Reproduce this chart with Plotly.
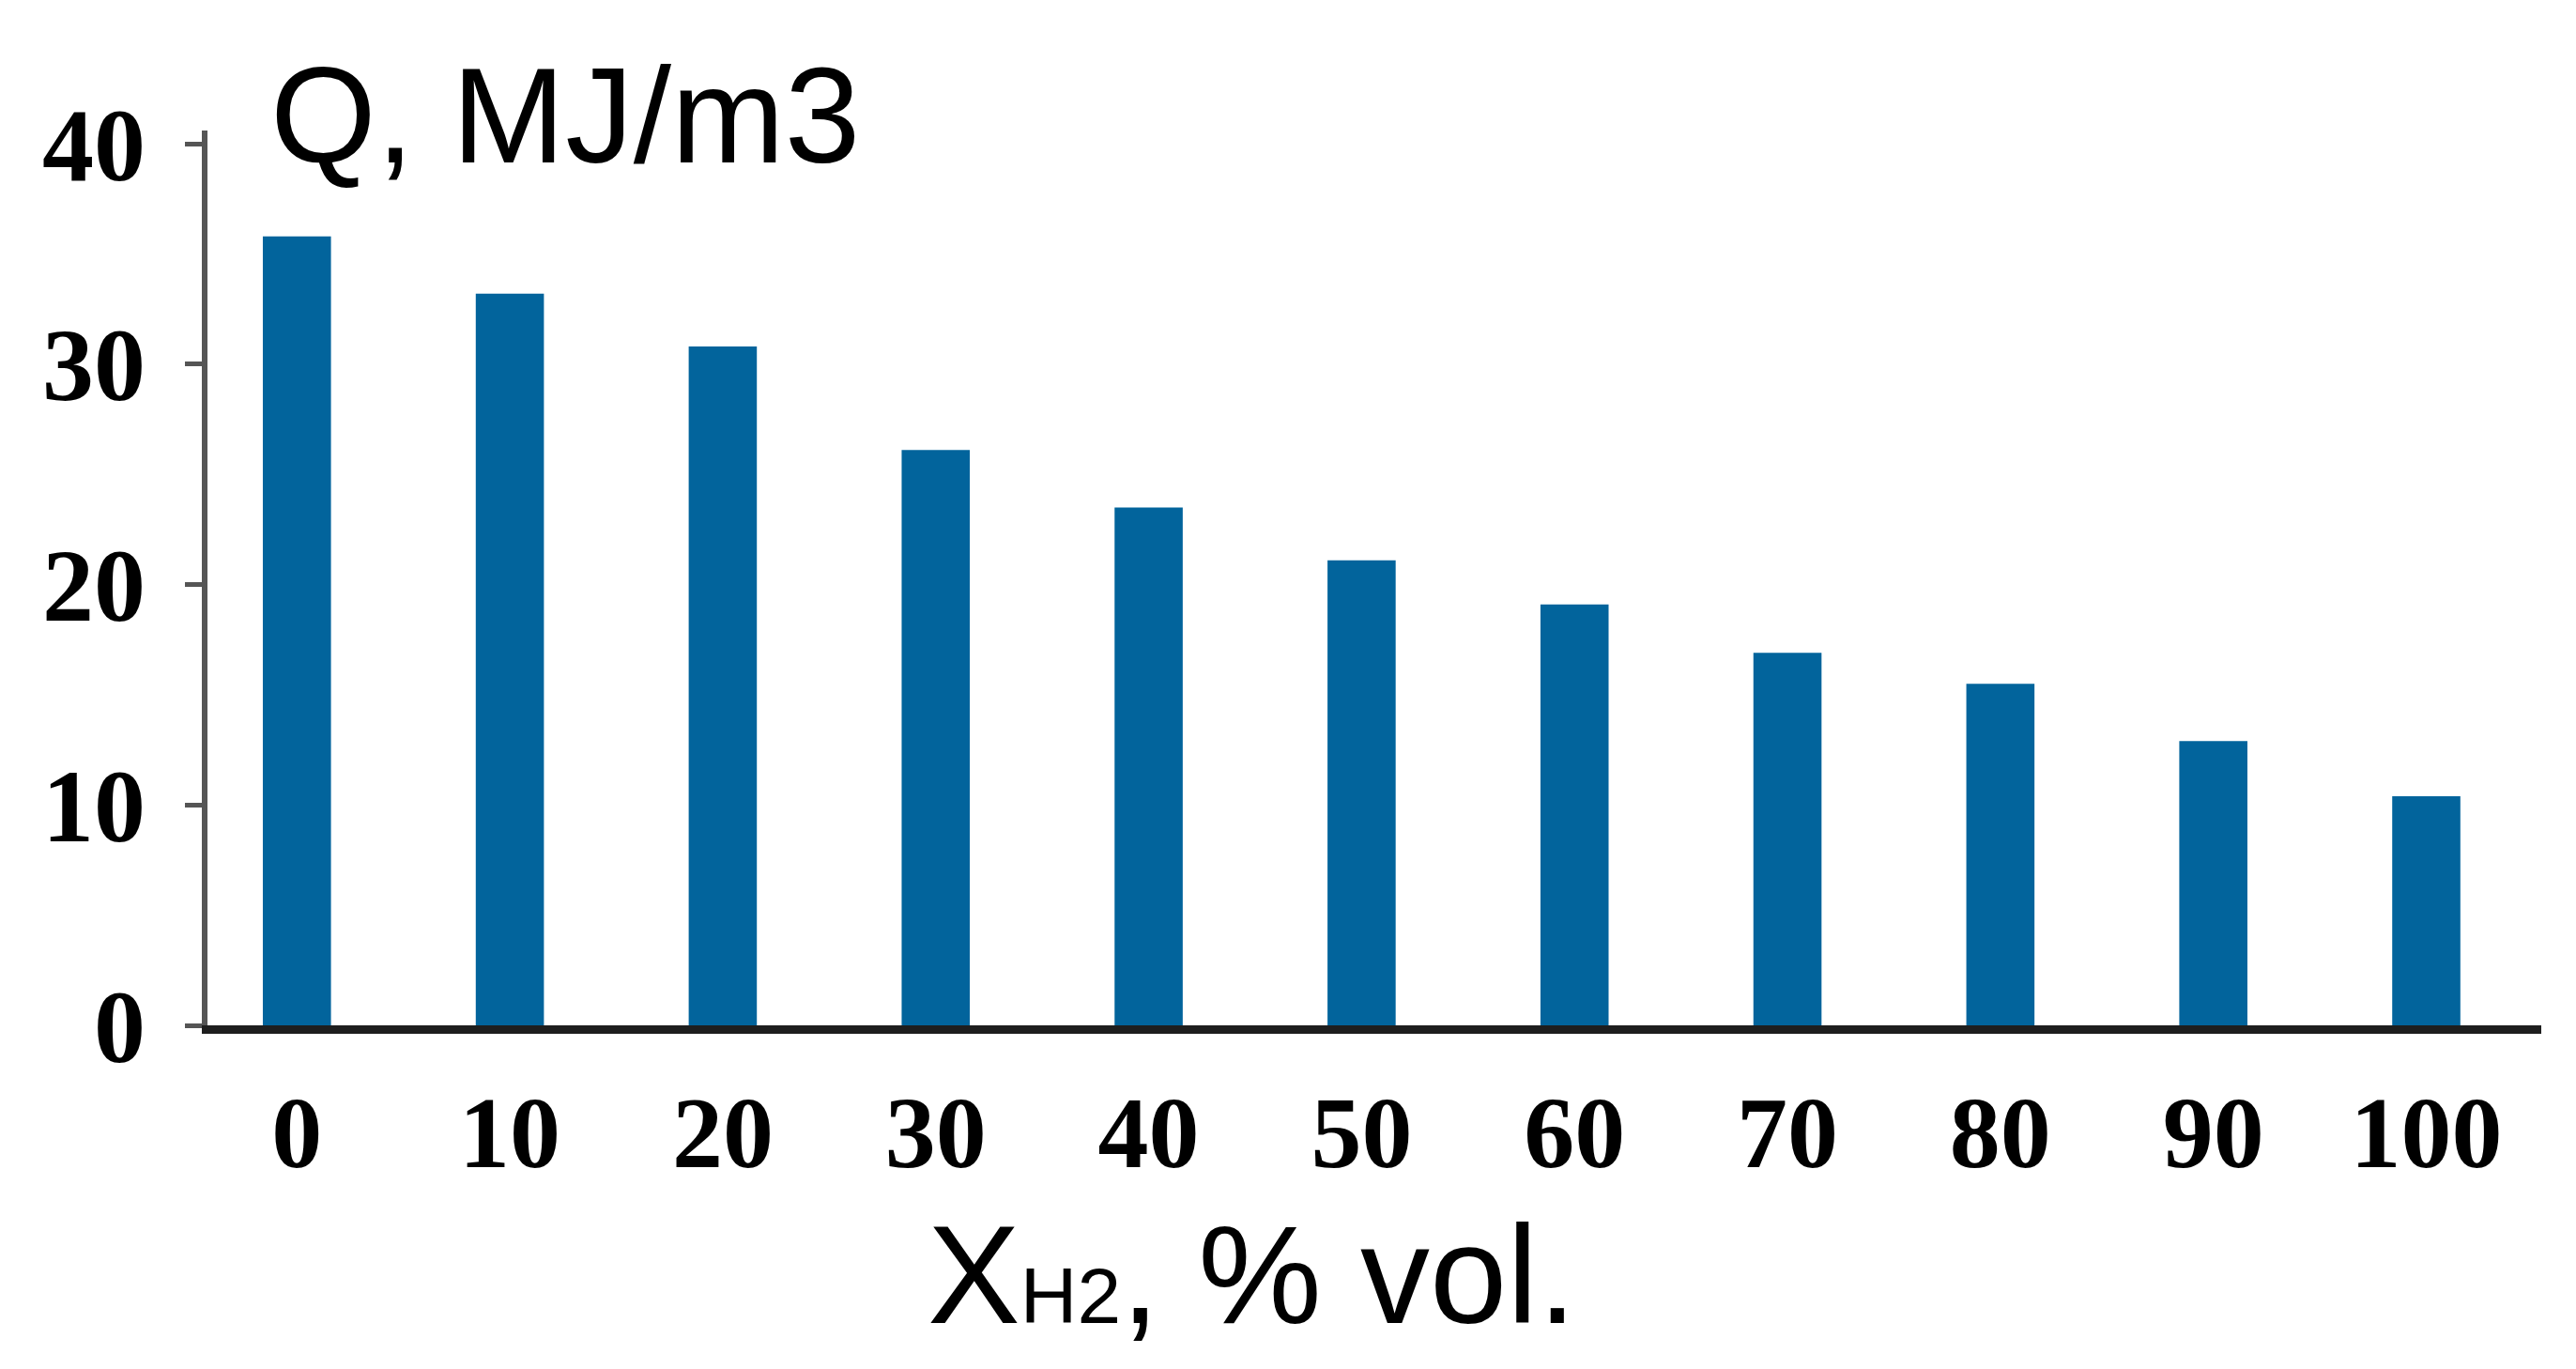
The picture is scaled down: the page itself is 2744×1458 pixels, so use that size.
import plotly.graph_objects as go

# hydrogen share in the mix, % vol.
x_h2 = ["0", "10", "20", "30", "40", "50", "60", "70", "80", "90", "100"]
# heating value, MJ/m3
q_values = [35.8, 33.2, 30.8, 26.1, 23.5, 21.1, 19.1, 16.9, 15.5, 12.9, 10.4]
y_ticks = [0, 10, 20, 30, 40]

W, H = 2744, 1458
ML, MR, MT, MB = 213, 45, 131, 374
bar_color = "#02649C"

def px_to_paper(px, py):
    # absolute page pixels -> paper coords
    return (px - ML) / (W - ML - MR), (H - MB - py) / (H - MT - MB)

fig = go.Figure()
fig.add_trace(go.Bar(
    x=x_h2, y=q_values,
    marker=dict(color=bar_color, line=dict(width=0)),
    width=0.32,
))

fig.update_layout(
    width=W, height=H,
    margin=dict(l=ML, r=MR, t=MT, b=MB, autoexpand=False),
    paper_bgcolor="white",
    plot_bgcolor="white",
    showlegend=False,
    xaxis=dict(
        type="category",
        range=[-0.42, 10.54],
        showline=True, linecolor="#1e1e1e", linewidth=9,
        showgrid=False, zeroline=False,
        ticks="",
        tickfont=dict(family="Liberation Serif", size=108, color="black", weight="bold"),
        ticklabelstandoff=12,
    ),
    yaxis=dict(
        range=[0, 40.6],
        tickvals=y_ticks,
        showline=True, linecolor="#555555", linewidth=6,
        showgrid=False, zeroline=False,
        ticks="outside", ticklen=18, tickwidth=5, tickcolor="#555555",
        tickfont=dict(family="Liberation Serif", size=110, color="black", weight="bold"),
        ticklabelstandoff=20,
    ),
)

# axis titles placed as in the source figure
qx, qy = px_to_paper(278, 32)
fig.add_annotation(
    text="Q, MJ/m3", xref="paper", yref="paper",
    x=qx, y=qy, xanchor="left", yanchor="top", showarrow=False,
    font=dict(family="Liberation Sans", size=145, color="black"),
)
tx, ty = px_to_paper(978, 1265)
fig.add_annotation(
    text="X<span style='font-size:84px'>H2</span>, % vol.", xref="paper", yref="paper",
    x=tx, y=ty, xanchor="left", yanchor="top", showarrow=False,
    font=dict(family="Liberation Sans", size=148, color="black"),
)

fig.write_html("out.html")
